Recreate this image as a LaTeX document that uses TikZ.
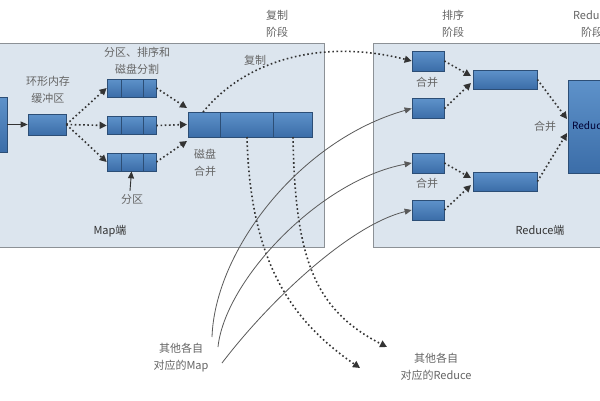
\documentclass[tikz,border=0pt]{standalone}
\usepackage{fontspec}
\newfontfamily\cjk{Noto Sans CJK SC}
\usetikzlibrary{arrows.meta,calc}
\definecolor{panel}{HTML}{DCE5EE}
\definecolor{panelline}{HTML}{8C9196}
\definecolor{boxtop}{HTML}{5E92CA}
\definecolor{boxbot}{HTML}{3B6DA8}
\definecolor{boxline}{HTML}{2C4E76}
\definecolor{lbl}{HTML}{656565}
\definecolor{arr}{HTML}{333333}
\begin{document}
\begin{tikzpicture}[x=1pt,y=-1pt,
  panelbox/.style={draw=panelline,fill=panel,line width=1pt,inner sep=0},
  bluebox/.style={draw=boxline,top color=boxtop,bottom color=boxbot,line width=0.7pt,inner sep=0},
  lab/.style={font=\cjk\fontsize{11}{17}\selectfont,text=lbl,align=center,inner sep=0},
  darklab/.style={font=\cjk\fontsize{11}{17}\selectfont,text=black!80,align=center,inner sep=0},
  dotarrow/.style={draw=arr,line width=1.6pt,dash pattern=on 1.6pt off 2.6pt,-{Triangle[length=7pt,width=7pt]}},
  solidarrow/.style={draw=black!65,line width=0.8pt,-{Triangle[length=7pt,width=6pt]}}]
\useasboundingbox (0,0) rectangle (600,400);
\fill[white] (0,0) rectangle (600,400);
\clip (0,0) rectangle (600,400);

% panels
\node[panelbox,minimum width=334pt,minimum height=204pt] (mapbox) at (157,145) {};
\node[panelbox,minimum width=240pt,minimum height=204pt] (redbox) at (493,145) {};

% Map side boxes
\node[bluebox,minimum width=20pt,minimum height=55pt] (leftblk) at (-3,124.5) {};
\node[bluebox,minimum width=38pt,minimum height=21pt] (buf) at (47,124.5) {};
\foreach \n/\y in {p1/88,p2/125.5,p3/162}{
  \node[bluebox,minimum width=49pt,minimum height=18pt] (\n) at (131.5,\y) {};
  \draw[boxline,line width=0.7pt] (121,\y-9) -- (121,\y+9) (143,\y-9) -- (143,\y+9);
}
\node[bluebox,minimum width=124pt,minimum height=25pt] (merged) at (250,124.5) {};
\draw[boxline,line width=0.7pt] (220,112) -- (220,137) (273,112) -- (273,137);

% Reduce side boxes
\foreach \n/\y in {r1/61,r2/108.5,r3/163,r4/210}{
  \node[bluebox,minimum width=32pt,minimum height=20pt] (\n) at (428,\y) {};
}
\node[bluebox,minimum width=64pt,minimum height=19pt] (m1) at (505,79.5) {};
\node[bluebox,minimum width=64pt,minimum height=19pt] (m2) at (505,181.5) {};
\node[bluebox,minimum width=56pt,minimum height=93pt] (bigR) at (596,126.5) {};
\node[font=\cjk\fontsize{10}{12}\selectfont,text=blue!20!black,anchor=west,inner sep=0] (bigRtxt) at (572,126) {Reduce};

% labels
\node[lab] (fuzhi) at (277,24) {复制\\阶段};
\node[lab] (paixu) at (453,24) {排序\\阶段};
\node[lab] (redstage) at (592,24) {Reduce\\阶段};
\node[lab] (huanxing) at (48,90) {环形内存\\缓冲区};
\node[lab] (fqlabel) at (137,61) {分区、排序和\\磁盘分割};
\node[lab] (fenqu) at (132,199) {分区};
\node[lab] (cipan) at (205,163) {磁盘\\合并};
\node[lab] (copylbl) at (255,60) {复制};
\node[darklab] (maplbl) at (110,231) {Map端};
\node[darklab] (redlbl) at (540,230) {Reduce端};
\node[lab] (hb1) at (427,82) {合并};
\node[lab] (hb2) at (427,183) {合并};
\node[lab] (hb3) at (545,126) {合并};
\node[lab] (othermap) at (181,358) {其他各自\\对应的Map};
\node[lab] (otherred) at (436,367) {其他各自\\对应的Reduce};

% coordinates
\coordinate (mt) at (187,108);
\coordinate (mm) at (187,124.5);
\coordinate (mb) at (187,141);
\coordinate (m1a) at (471,76);
\coordinate (m1b) at (471,83);
\coordinate (m2a) at (471,178);
\coordinate (m2b) at (471,185);
\coordinate (ra) at (567,119);
\coordinate (rb) at (567,133);
\coordinate (cpstart) at (203,112);
\coordinate (d1s) at (247,137);
\coordinate (d2s) at (293,137);
\coordinate (d1e) at (360,368);
\coordinate (d2e) at (387,347);
\coordinate (sa) at (212,337);
\coordinate (sb) at (218,347);
\coordinate (sc) at (222,363);

% Map side arrows
\draw[draw=arr,line width=0.9pt,-{Triangle[length=7pt,width=6pt]}] (leftblk.east) -- (buf.west);
\draw[dotarrow] (buf.east) -- (p1.west);
\draw[dotarrow] (buf.east) -- (p2.west);
\draw[dotarrow] (buf.east) -- (p3.west);
\draw[dotarrow] (p1.east) -- (mt);
\draw[dotarrow] (p2.east) -- (mm);
\draw[dotarrow] (p3.east) -- (mb);
\draw[draw=arr,line width=0.9pt,-{Triangle[length=7pt,width=6pt]}] (fenqu.north) ++(-2,-3) -- (p3.south);

% copy phase
\draw[dotarrow] (cpstart) .. controls (250,55) and (330,40) .. (r1.west);
\draw[dotarrow] (d1s) .. controls (250,260) and (290,320) .. (d1e);
\draw[dotarrow] (d2s) .. controls (295,260) and (315,310) .. (d2e);

% other maps
\draw[solidarrow] (sa) .. controls (215,250) and (300,140) .. (r2.west);
\draw[solidarrow] (sb) .. controls (225,280) and (320,180) .. (r3.west);
\draw[solidarrow] (sc) .. controls (270,300) and (350,225) .. (r4.west);

% Reduce side arrows
\draw[dotarrow] (r1.east) -- (m1a);
\draw[dotarrow] (r2.east) -- (m1b);
\draw[dotarrow] (r3.east) -- (m2a);
\draw[dotarrow] (r4.east) -- (m2b);
\draw[dotarrow] (m1.east) -- (ra);
\draw[dotarrow] (m2.east) -- (rb);
\end{tikzpicture}
\end{document}
